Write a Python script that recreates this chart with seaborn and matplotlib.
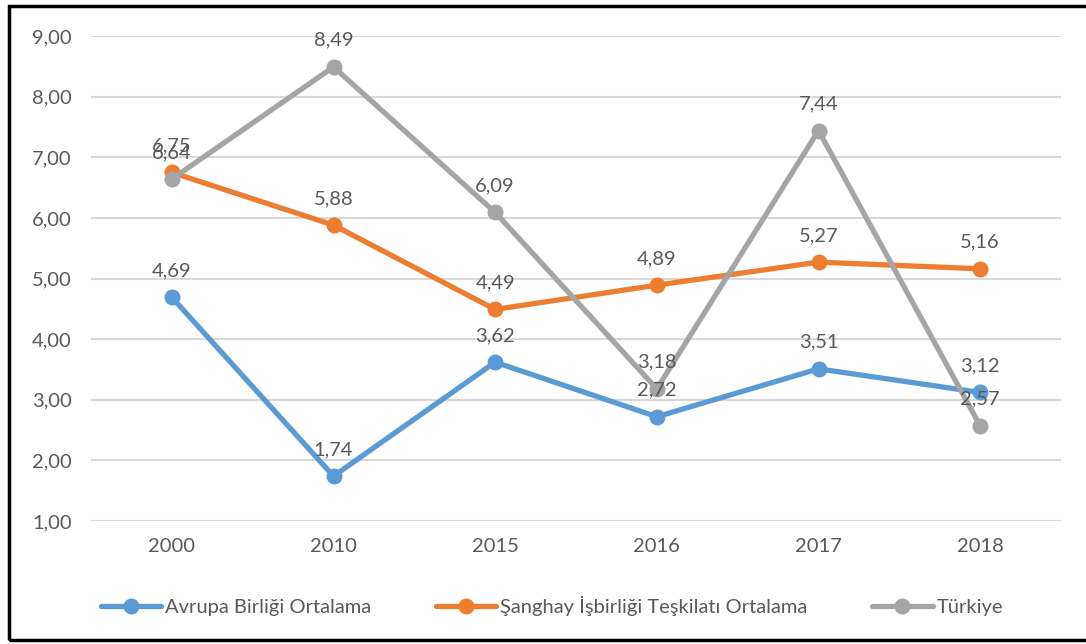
import matplotlib
matplotlib.use("Agg")
import matplotlib.pyplot as plt
import seaborn as sns
import pandas as pd
from matplotlib.patches import Rectangle

years = ["2000", "2010", "2015", "2016", "2017", "2018"]
ab = [4.69, 1.74, 3.62, 2.72, 3.51, 3.12]
sio = [6.75, 5.88, 4.49, 4.89, 5.27, 5.16]
turkiye = [6.64, 8.49, 6.09, 3.18, 7.44, 2.57]
series_names = ["Avrupa Birliği Ortalama", "Şanghay İşbirliği Teşkilatı Ortalama", "Türkiye"]
colors = ["#5B9BD5", "#ED7D31", "#A5A5A5"]
yticks = [1, 2, 3, 4, 5, 6, 7, 8, 9]

rows = []
for name, vals in zip(series_names, [ab, sio, turkiye]):
    for yr, v in zip(years, vals):
        rows.append({"Yıl": yr, "Değer": v, "Seri": name})
df = pd.DataFrame(rows)

sns.set_theme(style="white")
plt.rcParams["font.family"] = ["Lato", "DejaVu Sans"]

fig = plt.figure(figsize=(10.86, 6.44), dpi=100)
ax = fig.add_axes([91/1086, 1-521/644, (1061-91)/1086, (521-36)/644])

sns.lineplot(data=df, x="Yıl", y="Değer", hue="Seri", hue_order=series_names,
             palette=colors, marker="o", markersize=11.5, markeredgewidth=0,
             linewidth=3.8, sort=False, ax=ax, legend=True)

for name, vals in zip(series_names, [ab, sio, turkiye]):
    for i, v in enumerate(vals):
        ax.annotate(f"{v:.2f}".replace(".", ","), (i, v), xytext=(0, 13),
                    textcoords="offset points", ha="center", va="bottom",
                    fontsize=14.5, color="#595959")

ax.set_xlim(-0.5, len(years) - 0.5)
ax.set_ylim(1, 9)
ax.set_yticks(yticks)
ax.set_yticklabels([f"{t:.2f}".replace(".", ",") for t in yticks])
ax.set_xticks(range(len(years)))
ax.set_xticklabels(years)
ax.tick_params(axis="both", length=0, labelsize=14.5, labelcolor="#595959")
ax.tick_params(axis="y", pad=14)
ax.tick_params(axis="x", pad=12)
ax.set_xlabel("")
ax.set_ylabel("")
ax.grid(axis="y", color="#D9D9D9", linewidth=1.5)
ax.set_axisbelow(True)
for s in ax.spines.values():
    s.set_visible(False)

handles, labels = ax.get_legend_handles_labels()
ax.get_legend().remove()
fig.legend(handles, labels, loc="center", bbox_to_anchor=(552/1086, 1-606/644),
           ncol=3, frameon=False, fontsize=14.5, handlelength=3.0,
           handletextpad=0.2, columnspacing=3.2, labelcolor="#595959")

fig.patches.append(Rectangle((9/1086, 4/644), 1.1, 634/644, transform=fig.transFigure,
                             fill=False, edgecolor="#000000", linewidth=2.5))

fig.savefig("out.png", dpi=100)
